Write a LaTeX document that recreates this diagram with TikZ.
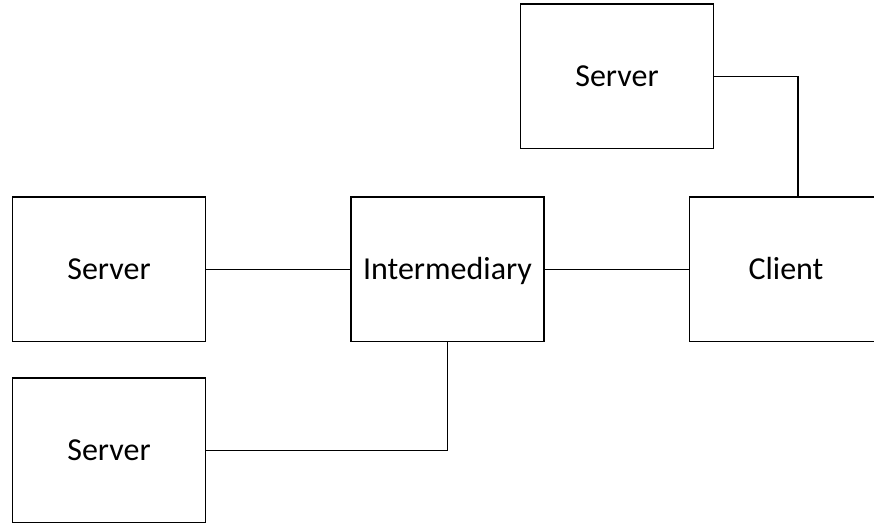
\documentclass[tikz,border=0pt]{standalone}
\usepackage{fontspec}
\setmainfont{Carlito}
\begin{document}
\begin{tikzpicture}[x=1pt,y=-1pt,
  box/.style={draw, line width=1.6pt, minimum width=193pt, minimum height=144.5pt, inner sep=0pt, text height=20.6pt, text depth=0pt, font=\fontsize{32}{38}\selectfont},
  conn/.style={line width=1.6pt}]
\useasboundingbox (0,0) rectangle (874,522);
\node[box] (s1) at (617,76.3) {Server};
\node[box] (sl) at (109,269.3) {Server};
\node[box] (im) at (447.5,269.3) {Intermediary};
\node[box] (cl) at (786,269.3) {Client};
\node[box] (bs) at (109,450.3) {Server};
\draw[conn] (sl.east) -- (im.west);
\draw[conn] (im.east) -- (cl.west);
\draw[conn] (im.south) |- (bs.east);
\draw[conn] (s1.east) -| ([xshift=12pt]cl.north);
\end{tikzpicture}
\end{document}
